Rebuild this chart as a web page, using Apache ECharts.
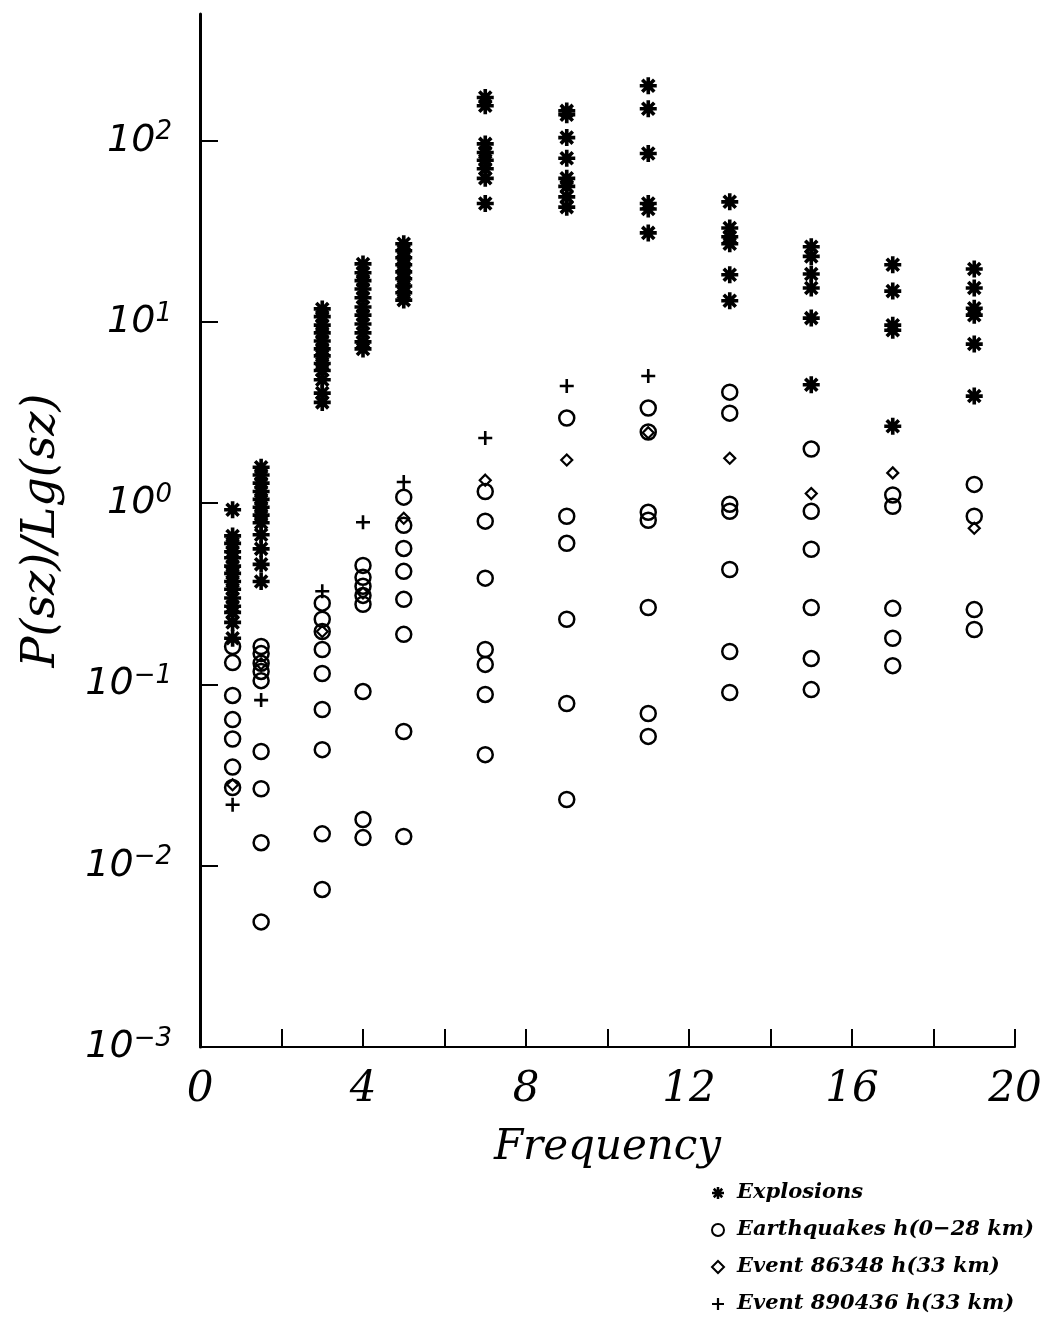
<!DOCTYPE html>
<html>
<head>
<meta charset="utf-8">
<script src="https://cdn.jsdelivr.net/npm/echarts@6.0.0/dist/echarts.min.js"></script>
<style>
html,body{margin:0;padding:0;background:#fff;}
#chart{width:1048px;height:1321px;}
</style>
</head>
<body>
<div id="chart"></div>
<script>
// Frequency bands (x positions of the columns)
const freqs = [0.8, 1.5, 3, 4, 5, 7, 9, 11, 13, 15, 17, 19];

// Explosions: P(sz)/Lg(sz) per frequency column
const explosions = [
  [0.92, 0.66, 0.60, 0.54, 0.50, 0.45, 0.41, 0.37, 0.335, 0.30, 0.27, 0.25, 0.22, 0.18],
  [1.58, 1.43, 1.29, 1.16, 1.05, 0.95, 0.86, 0.78, 0.67, 0.56, 0.46, 0.37],
  [11.8, 10.7, 9.6, 8.7, 7.85, 7.1, 6.5, 5.9, 5.4, 4.8, 4.05, 3.6],
  [20.9, 18.7, 16.9, 15.2, 13.6, 12.1, 10.9, 9.75, 8.7, 7.76, 7.1],
  [27.0, 24.7, 22.6, 20.7, 18.9, 17.3, 15.8, 14.5, 13.2],
  [173, 156, 96, 86, 78, 70, 62, 45],
  [146, 139, 104, 80, 62, 56, 49, 43],
  [201, 150, 85, 45, 42, 31],
  [46, 33, 29.5, 27, 18.2, 13.1],
  [26, 23, 18.4, 15.4, 10.5, 4.5],
  [20.7, 14.8, 9.6, 9.0, 2.66],
  [19.6, 15.4, 11.9, 10.9, 7.55, 3.9]
];

// Earthquakes h(0-28 km)
const earthquakes = [
  [0.162, 0.132, 0.087, 0.064, 0.050, 0.035, 0.027],
  [0.162, 0.148, 0.131, 0.118, 0.105, 0.0427, 0.0266, 0.0134, 0.0049],
  [0.281, 0.229, 0.196, 0.156, 0.115, 0.0728, 0.0437, 0.0150, 0.0074],
  [0.454, 0.390, 0.348, 0.310, 0.277, 0.0914, 0.0180, 0.0143],
  [1.08, 0.755, 0.563, 0.421, 0.295, 0.189, 0.055, 0.0145],
  [1.16, 0.796, 0.386, 0.156, 0.129, 0.0881, 0.0410],
  [2.95, 0.847, 0.601, 0.229, 0.0785, 0.0232],
  [3.35, 2.47, 0.891, 0.805, 0.266, 0.0692, 0.0517],
  [4.10, 3.14, 0.987, 0.903, 0.431, 0.152, 0.0903],
  [1.99, 0.903, 0.557, 0.266, 0.139, 0.0937],
  [1.11, 0.962, 0.263, 0.180, 0.127],
  [1.27, 0.847, 0.259, 0.201]
];

// Event 86348 h(33 km), one value per frequency column
const event86348 = [0.028, 0.13, 0.196, 0.32, 0.826, 1.34, 1.73, 2.45, 1.77, 1.13, 1.47, 0.728];

// Event 890436 h(33 km), values for the first eight columns
const event890436 = [0.0217, 0.082, 0.327, 0.785, 1.31, 2.29, 4.43, 5.03];

const yTickValues = [0.001, 0.01, 0.1, 1, 10, 100];
const xLabelValues = [0, 4, 8, 12, 16, 20];

const seriesNames = ['Explosions', 'Earthquakes h(0\u221228 km)', 'Event 86348 h(33 km)', 'Event 890436 h(33 km)'];

function columnsToPoints(cols) {
  const out = [];
  cols.forEach((vals, i) => vals.forEach(v => out.push([freqs[i], v])));
  return out;
}
function listToPoints(vals) {
  return vals.map((v, i) => [freqs[i], v]);
}

const starPath = 'path://M-1.7,-8 L1.7,-8 L1.7,8 L-1.7,8 Z M-8,-1.7 L8,-1.7 L8,1.7 L-8,1.7 Z ' +
  'M-4.46,-6.86 L6.86,4.46 L4.46,6.86 L-6.86,-4.46 Z M4.46,-6.86 L6.86,-4.46 L-4.46,6.86 L-6.86,4.46 Z ' +
  'M0,-3 A3,3 0 1,1 0,3 A3,3 0 1,1 0,-3 Z';
const plusPath = 'path://M-1.3,-7 L1.3,-7 L1.3,7 L-1.3,7 Z M-7,-1.3 L7,-1.3 L7,1.3 L-7,1.3 Z';

const chart = echarts.init(document.getElementById('chart'), null, {renderer: 'canvas'});

const serifItalic = {fontFamily: 'DejaVu Serif', fontStyle: 'italic', color: '#000'};

chart.setOption({
  backgroundColor: '#fff',
  animation: false,
  grid: {left: 200, right: 33, top: 14, bottom: 274, containLabel: false},
  xAxis: {
    type: 'value', min: 0, max: 20, interval: 2,
    name: 'Frequency', nameLocation: 'middle', nameGap: 80,
    nameTextStyle: Object.assign({fontSize: 42}, serifItalic),
    axisLine: {show: true, lineStyle: {color: '#000', width: 2}},
    axisTick: {show: true, inside: true, length: 18, lineStyle: {color: '#000', width: 2}},
    axisLabel: Object.assign({
      fontSize: 42, margin: 22,
      formatter: v => (xLabelValues.indexOf(v) >= 0 ? String(v) : '')
    }, serifItalic),
    splitLine: {show: false}
  },
  yAxis: {
    type: 'log', logBase: 10, min: 0.001, max: 500,
    name: 'P(sz)/Lg(sz)', nameLocation: 'middle', nameGap: 135, nameRotate: 90,
    nameTextStyle: Object.assign({fontSize: 46}, serifItalic),
    axisLine: {show: true, lineStyle: {color: '#000', width: 3}},
    axisTick: {show: true, inside: true, length: 18, lineStyle: {color: '#000', width: 2}, customValues: yTickValues},
    axisLabel: {
      customValues: yTickValues,
      margin: 28,
      formatter: v => {
        const e = Math.round(Math.log10(v));
        return '{b|10}{s|' + String(e).replace('-', '\u2212') + '}';
      },
      rich: {
        b: {fontFamily: 'DejaVu Sans', fontStyle: 'italic', fontSize: 38, color: '#000', lineHeight: 40},
        s: {fontFamily: 'DejaVu Sans', fontStyle: 'italic', fontSize: 26, color: '#000', lineHeight: 40, padding: [0, 0, 16, 0]}
      }
    },
    splitLine: {show: false}
  },
  legend: {
    orient: 'vertical', left: 711, top: 1181, padding: 0, height: 140,
    itemWidth: 12, itemHeight: 12, itemGap: 13,
    textStyle: {fontFamily: 'DejaVu Serif', fontStyle: 'italic', fontWeight: 'bold', fontSize: 21, color: '#000', lineHeight: 24, padding: [0, 0, 0, 8]},
    data: [
      {name: seriesNames[0], icon: starPath},
      {name: seriesNames[1], icon: 'circle'},
      {name: seriesNames[2], icon: 'diamond'},
      {name: seriesNames[3], icon: plusPath}
    ]
  },
  series: [
    {
      name: seriesNames[0], type: 'scatter', symbol: starPath, symbolSize: 17,
      itemStyle: {color: '#000', opacity: 1}, data: columnsToPoints(explosions)
    },
    {
      name: seriesNames[1], type: 'scatter', symbol: 'circle', symbolSize: 15,
      itemStyle: {color: 'rgba(0,0,0,0)', borderColor: '#000', borderWidth: 2.5, opacity: 1},
      data: columnsToPoints(earthquakes)
    },
    {
      name: seriesNames[2], type: 'scatter', symbol: 'diamond', symbolSize: 11,
      itemStyle: {color: 'rgba(0,0,0,0)', borderColor: '#000', borderWidth: 2.2, opacity: 1},
      data: listToPoints(event86348)
    },
    {
      name: seriesNames[3], type: 'scatter', symbol: plusPath, symbolSize: 14,
      itemStyle: {color: '#000', opacity: 1}, data: listToPoints(event890436)
    }
  ]
});
</script>
</body>
</html>
